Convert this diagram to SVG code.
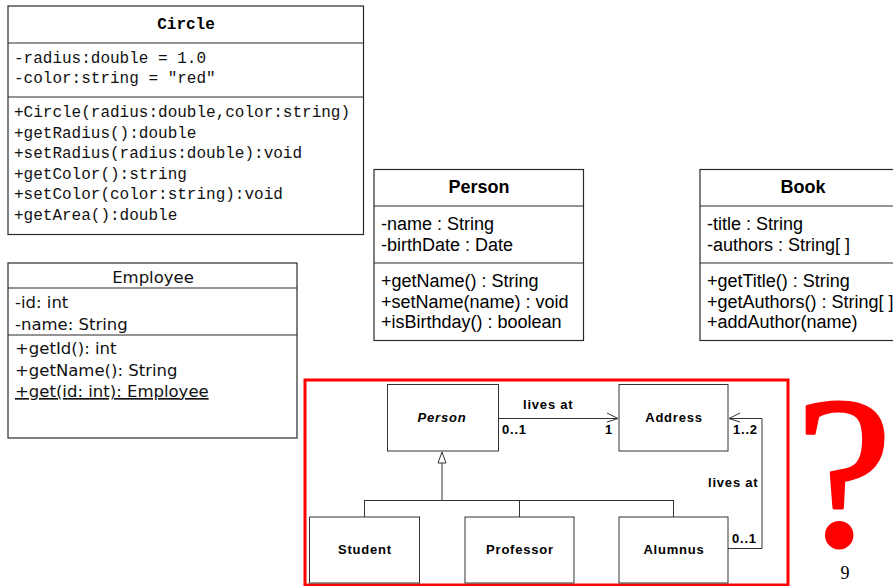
<svg xmlns="http://www.w3.org/2000/svg" width="893" height="586" viewBox="0 0 893 586">
  <style>
    .box { fill: #fff; stroke: #2a2a2a; stroke-width: 1.2; }
    .sep { stroke: #2a2a2a; stroke-width: 1.2; }
    .mono { font-family: "Liberation Mono", "DejaVu Sans Mono", monospace; font-size: 16px; fill: #111; }
    .monoB { font-family: "Liberation Mono", "DejaVu Sans Mono", monospace; font-size: 16px; font-weight: bold; fill: #000; }
    .lucida { font-family: "DejaVu Sans", "Noto Sans", sans-serif; font-size: 16.5px; fill: #111; }
    .arial { font-family: "Liberation Sans", Arial, sans-serif; font-size: 18px; fill: #000; }
    .arialB { font-family: "Liberation Sans", Arial, sans-serif; font-size: 18px; font-weight: bold; fill: #000; }
    .small { font-family: "Liberation Sans", Arial, sans-serif; font-size: 13px; font-weight: bold; letter-spacing: 0.8px; fill: #000; }
    .ibox { fill: #fff; stroke: #333; stroke-width: 1; }
    .conn { fill: none; stroke: #333; stroke-width: 1; }
  </style>

  <!-- Circle class -->
  <g id="circle">
    <rect class="box" x="8" y="6" width="355.5" height="228.5"/>
    <line class="sep" x1="8" y1="43" x2="363.5" y2="43"/>
    <line class="sep" x1="8" y1="97" x2="363.5" y2="97"/>
    <text class="monoB" x="186" y="29" text-anchor="middle">Circle</text>
    <text class="mono" x="14" y="63">-radius:double = 1.0</text>
    <text class="mono" x="14" y="83">-color:string = "red"</text>
    <text class="mono" x="14" y="117">+Circle(radius:double,color:string)</text>
    <text class="mono" x="14" y="137.6">+getRadius():double</text>
    <text class="mono" x="14" y="158.2">+setRadius(radius:double):void</text>
    <text class="mono" x="14" y="178.8">+getColor():string</text>
    <text class="mono" x="14" y="199.4">+setColor(color:string):void</text>
    <text class="mono" x="14" y="220">+getArea():double</text>
  </g>

  <!-- Employee class -->
  <g id="employee">
    <rect class="box" x="8" y="263" width="289" height="175"/>
    <line class="sep" x1="8" y1="288" x2="297" y2="288"/>
    <line class="sep" x1="8" y1="335" x2="297" y2="335"/>
    <text class="lucida" x="153" y="283" text-anchor="middle">Employee</text>
    <text class="lucida" x="15" y="308">-id: int</text>
    <text class="lucida" x="15" y="330">-name: String</text>
    <text class="lucida" x="15" y="354">+getId(): int</text>
    <text class="lucida" x="15" y="375.5">+getName(): String</text>
    <text class="lucida" x="15" y="397" text-decoration="underline">+get(id: int): Employee</text>
  </g>

  <!-- Person class -->
  <g id="person">
    <rect class="box" x="374" y="169.5" width="209.5" height="171"/>
    <line class="sep" x1="374" y1="206" x2="583.5" y2="206"/>
    <line class="sep" x1="374" y1="263" x2="583.5" y2="263"/>
    <text class="arialB" x="479" y="193" text-anchor="middle">Person</text>
    <text class="arial" x="381" y="230">-name : String</text>
    <text class="arial" x="381" y="251">-birthDate : Date</text>
    <text class="arial" x="381" y="287">+getName() : String</text>
    <text class="arial" x="381" y="307.5">+setName(name) : void</text>
    <text class="arial" x="381" y="328">+isBirthday() : boolean</text>
  </g>

  <!-- Book class -->
  <g id="book">
    <rect class="box" x="700" y="169.5" width="209.5" height="171"/>
    <line class="sep" x1="700" y1="206" x2="909.5" y2="206"/>
    <line class="sep" x1="700" y1="263" x2="909.5" y2="263"/>
    <text class="arialB" x="803" y="193" text-anchor="middle">Book</text>
    <text class="arial" x="707" y="230">-title : String</text>
    <text class="arial" x="707" y="251">-authors : String[ ]</text>
    <text class="arial" x="707" y="287">+getTitle() : String</text>
    <text class="arial" x="707" y="307.5">+getAuthors() : String[ ]</text>
    <text class="arial" x="707" y="328">+addAuthor(name)</text>
  </g>

  <!-- highlighted frame -->
  <rect x="305" y="380" width="483" height="205" fill="none" stroke="#ff0000" stroke-width="3"/>

  <!-- connectors of the framed diagram -->
  <g id="connectors">
    <line class="conn" x1="498" y1="418.5" x2="618" y2="418.5"/>
    <polyline class="conn" points="607,413 618,418.5 607,422"/>
    <polyline class="conn" points="728,548.5 762,548.5 762,418.5 729,418.5"/>
    <polyline class="conn" points="740,413 729,418.5 740,422"/>
    <polygon class="conn" points="442,452 438,463 446,463" fill="#fff"/>
    <line class="conn" x1="442" y1="463" x2="442" y2="500.5"/>
    <line class="conn" x1="364" y1="500.5" x2="674" y2="500.5"/>
    <line class="conn" x1="364.5" y1="500.5" x2="364.5" y2="517"/>
    <line class="conn" x1="519.5" y1="500.5" x2="519.5" y2="517"/>
    <line class="conn" x1="673.5" y1="500.5" x2="673.5" y2="517"/>
    <text class="small" x="523" y="409">lives at</text>
    <text class="small" x="502" y="434">0..1</text>
    <text class="small" x="605" y="434">1</text>
    <text class="small" x="733" y="434">1..2</text>
    <text class="small" x="708" y="487">lives at</text>
    <text class="small" x="732" y="543">0..1</text>
  </g>

  <g id="abstract-person">
    <rect class="ibox" x="387.5" y="384.5" width="111" height="66.5"/>
    <text class="small" x="442" y="422" text-anchor="middle" font-style="italic">Person</text>
  </g>
  <g id="address">
    <rect class="ibox" x="619" y="384.5" width="109" height="66.5"/>
    <text class="small" x="674" y="422" text-anchor="middle">Address</text>
  </g>
  <g id="student">
    <rect class="ibox" x="309.5" y="517" width="110" height="66"/>
    <text class="small" x="365" y="554" text-anchor="middle">Student</text>
  </g>
  <g id="professor">
    <rect class="ibox" x="465" y="517" width="109" height="66"/>
    <text class="small" x="520" y="554" text-anchor="middle">Professor</text>
  </g>
  <g id="alumnus">
    <rect class="ibox" x="619" y="517" width="109" height="66"/>
    <text class="small" x="674" y="554" text-anchor="middle">Alumnus</text>
  </g>

  <!-- question mark and page number -->
  <text x="844" y="545" text-anchor="middle" font-family="'Liberation Serif', 'Times New Roman', serif" font-size="216" fill="#ff0000" stroke="#ff0000" stroke-width="3" stroke-linejoin="round">?</text>
  <text x="845" y="579" text-anchor="middle" font-family="'Liberation Serif', 'Times New Roman', serif" font-size="18" fill="#000">9</text>
</svg>
